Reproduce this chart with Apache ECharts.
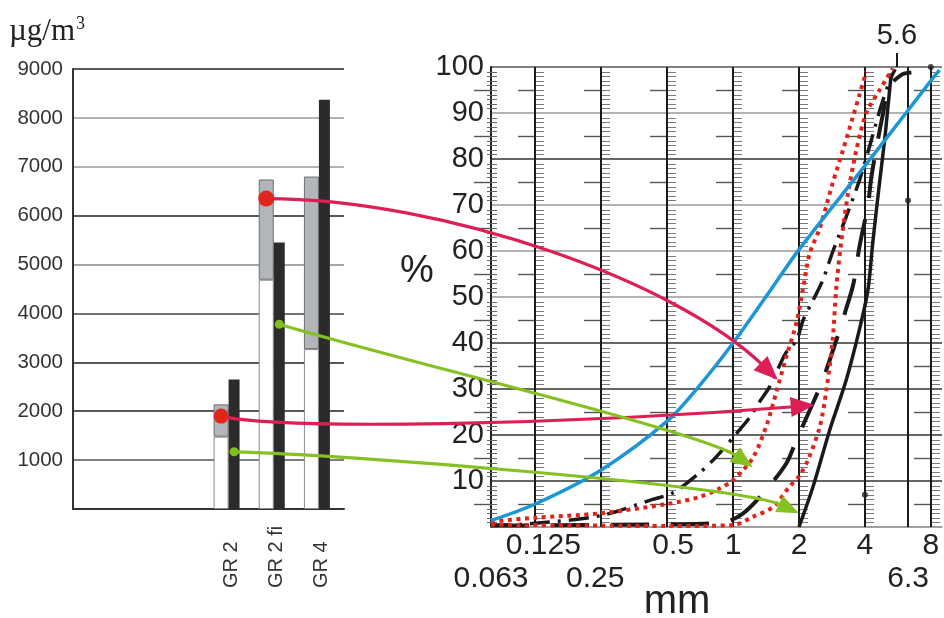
<!DOCTYPE html>
<html>
<head>
<meta charset="utf-8">
<title>GR 2 / GR 4</title>
<script src="https://cdn.jsdelivr.net/npm/echarts@6/dist/echarts.min.js"></script>
<style>
  html, body { margin: 0; padding: 0; background: #fff; }
  #main { width: 944px; height: 618px; }
</style>
</head>
<body>
<div id="main"></div>
<script>
// left chart: concentration bars
var categories = ['', ' ', '  ', 'GR 2', 'GR 2 fi', 'GR 4'];
var rangeLow  = [null, null, null, 1480, 4690, 3270];
var rangeHigh = [null, null, null, 2140, 6740, 6800];
var blackBar  = [null, null, null, 2650, 5450, 8370];

// right chart: grading curves [mm, %]
var blueCurve = [[0.063, 1.4], [0.125, 5], [0.25, 12.4], [0.5, 23], [0.71, 31], [1, 40], [1.41, 50], [2, 60.3], [4, 78.5], [6.3, 90.6], [8, 97], [8.77, 99.3]];
var redDotsA  = [[0.063, 1.2], [0.125, 2], [0.25, 3], [0.5, 5], [0.7, 6.5], [0.87, 8.4], [1, 10.2], [1.23, 15], [1.42, 22], [1.58, 29.5], [1.75, 37], [1.95, 44.5], [2.09, 52], [2.24, 59.5], [2.49, 65], [2.86, 75], [3.18, 82], [3.52, 89], [3.78, 94], [4.06, 99]];
var redDotsB  = [[0.063, 0.5], [0.25, 0.3], [0.5, 0.2], [1, 0.4], [1.23, 2.2], [1.53, 4.4], [1.81, 8.8], [2, 11], [2.2, 14.6], [2.49, 21.8], [2.67, 29.8], [2.85, 40.6], [2.96, 52], [3.12, 62], [3.35, 72.5], [3.66, 82], [4.06, 90], [4.67, 95], [5.37, 99.7]];
var dashDot   = [[0.063, 0.3], [0.125, 0.8], [0.25, 2.5], [0.43, 6], [0.53, 7.4], [0.7, 11.7], [0.84, 15.3], [1.04, 20.4], [1.2, 24], [1.32, 27.2], [1.47, 30.5], [1.74, 37.8], [1.95, 40.6], [2.09, 45], [2.32, 49.3], [2.57, 53.7], [2.86, 60], [3.29, 67.5], [3.78, 75.4], [4.2, 82.7], [4.68, 90.6], [5.19, 97], [5.5, 99.5]];
var longDash  = [[0.063, 0.3], [0.5, 0.6], [0.9, 1], [1.1, 2.8], [1.37, 7.3], [1.75, 13.8], [1.95, 19], [2.32, 27], [2.57, 32], [3.0, 41.4], [3.24, 46.5], [3.55, 53], [3.78, 61], [4.13, 70], [4.28, 76], [4.5, 82], [4.8, 89], [5.18, 95.7], [5.87, 98.3], [6.52, 98.8]];
var solidLine = [[2, 0], [2.32, 8.8], [2.76, 21], [3.29, 32], [3.78, 43], [4.13, 51.5], [4.35, 62], [4.67, 75], [4.92, 84], [5.09, 91], [5.28, 98.6]];
var blackDots = [[4, 7], [6.3, 71], [8, 100]];

// sieve lines and tick labels
var sieveLines = [0.125, 0.25, 0.5, 1, 2, 4, 8];
var extraLine = 6.3;
var topMark = 5.6;
var xLabelValues = [0.063, 0.125, 0.25, 0.5, 1, 2, 4, 6.3, 8];
var xLabelRow    = [2, 1, 2, 1, 1, 1, 1, 2, 1];

// arrows: start on a bar (category, value), end on the grading chart (mm, %)
var arrowFrom = [['GR 2 fi', 6350], ['GR 2', 1900], ['GR 2 fi', 3780], ['GR 2', 1170]];
var arrowTo   = [[1.6, 32], [2.36, 26.5], [1.23, 13], [2.0, 3]];

var FONT = '"Liberation Sans", Arial, Helvetica, sans-serif';
var SERIF = '"Liberation Serif", "Times New Roman", serif';
var RED = '#dc1f55', GREEN = '#86c124';
var arrowLook = [
    {bar: 'range', color: RED, dot: '#e2261c', r: 8, c1: [177, 0], c2: [-101, -98], head: [24, 10]},
    {bar: 'range', color: RED, dot: '#e2261c', r: 7.5, c1: [60, 14], c2: [-250, 20], head: [24, 10]},
    {bar: 'black', color: GREEN, dot: '#7fc01e', r: 4.5, c1: [120, 36], c2: [-50, -35], head: [22, 9]},
    {bar: 'black', color: GREEN, dot: '#7fc01e', r: 4.5, c1: [100, 2], c2: [-60, -28], head: [22, 9]}
];
// small horizontal nudges of some tick labels (px), as in the original print
var labelNudge = {'0.125': 8, '0.25': -6, '0.5': 6};

// bar widths (range bar, black bar, spacer that pushes the pair left)
var W_RANGE = 15, W_BLACK = 11, W_SPACE = 9;
var GROUP = W_RANGE + W_BLACK + W_SPACE;
var RANGE_DX = -GROUP / 2 + W_RANGE / 2;
var BLACK_DX = -GROUP / 2 + W_RANGE + W_BLACK / 2;

// position on the grading paper: log2, the first octave is squeezed
function pos(mm) {
    var l = Math.log2(mm);
    return l >= -3 ? l : -3 + (l + 3) * 0.68;
}
function toXY(arr) {
    return arr.map(function (p) { return [pos(p[0]), p[1]]; });
}
var xMin = pos(0.063), xMax = Math.log2(9);

var rangeSpan = rangeHigh.map(function (h, i) { return h == null ? null : h - rangeLow[i]; });

// tick decoration of the grading paper: kind 0 short right, 1 long left, 2 edge, 3 sieve line, 4 top mark
var tickData = [];
sieveLines.concat([extraLine]).forEach(function (mm) { tickData.push([pos(mm), 0, 3]); });
sieveLines.forEach(function (mm) {
    for (var p = 1; p < 100; p++) if (p % 10) tickData.push([pos(mm), p, 0]);
    for (var q = 5; q < 100; q += 10) tickData.push([pos(mm), q, 1]);
});
for (var p = 1; p < 100; p++) if (p % 10) tickData.push([xMin, p, 2]);
for (var q = 5; q < 100; q += 10) tickData.push([xMin, q, 1]);
tickData.push([pos(topMark), 100, 4]);

function renderTick(params, api) {
    var x = api.value(0), y = api.value(1), kind = api.value(2);
    var c = api.coord([x, y]);
    var px = Math.round(c[0]), py = Math.round(c[1]) + 0.5;
    if (kind === 3) {
        var t = api.coord([x, 100]);
        return {type: 'line', shape: {x1: px, y1: c[1], x2: px, y2: t[1]}, style: {stroke: '#1a1a1a', lineWidth: 2}};
    }
    if (kind === 4) {
        return {type: 'line', shape: {x1: px, y1: c[1], x2: px, y2: c[1] - 14}, style: {stroke: '#1a1a1a', lineWidth: 2}};
    }
    var x1, x2, stroke = '#7a7a7a', lw = 1;
    if (kind === 1) { x1 = px - 17; x2 = px - 1; stroke = '#555'; lw = 1.4; }
    else if (kind === 2) { x1 = px - 4; x2 = px + 6; stroke = '#666'; }
    else { x1 = px + 1; x2 = px + 9; }
    return {type: 'line', shape: {x1: x1, y1: py, x2: x2, y2: py}, style: {stroke: stroke, lineWidth: lw}};
}

var chart = echarts.init(document.getElementById('main'));
var option = {
    animation: false,
    textStyle: {fontFamily: FONT},
    grid: [
        {left: 73, right: 600, top: 69, bottom: 109},
        {left: 491, right: 2, top: 67, bottom: 91}
    ],
    xAxis: [{
        type: 'category',
        gridIndex: 0,
        data: categories,
        axisLine: {show: true, lineStyle: {color: '#333', width: 2}},
        axisTick: {show: false},
        axisLabel: {
            rotate: 90, align: 'left', verticalAlign: 'middle', margin: 79,
            fontSize: 20, color: '#333', interval: 0
        }
    }, {
        type: 'value',
        gridIndex: 1,
        min: xMin,
        max: xMax,
        splitLine: {show: false},
        axisTick: {show: false},
        axisLine: {show: true, onZero: false, lineStyle: {color: '#999', width: 1.5}},
        axisLabel: {
            customValues: xLabelValues.map(pos),
            margin: 4,
            formatter: function (v) {
                for (var i = 0; i < xLabelValues.length; i++) {
                    if (Math.abs(pos(xLabelValues[i]) - v) < 1e-6) {
                        var s = String(xLabelValues[i]);
                        var n = labelNudge[s] || 0;
                        var cls = 'r' + xLabelRow[i] + (n > 0 ? 'r' + n : n < 0 ? 'l' + (-n) : '');
                        return '{' + cls + '|' + s + '}';
                    }
                }
                return '';
            },
            rich: {
                r1: {fontSize: 30, color: '#222', fontFamily: FONT},
                r1r8: {fontSize: 30, color: '#222', fontFamily: FONT, padding: [0, 0, 0, 16]},
                r1r6: {fontSize: 30, color: '#222', fontFamily: FONT, padding: [0, 0, 0, 12]},
                r2: {fontSize: 30, color: '#222', fontFamily: FONT, padding: [33, 0, 0, 0]},
                r2l6: {fontSize: 30, color: '#222', fontFamily: FONT, padding: [33, 12, 0, 0]}
            }
        }
    }, {
        type: 'value',
        gridIndex: 1,
        position: 'top',
        min: xMin,
        max: xMax,
        splitLine: {show: false},
        axisTick: {show: false},
        axisLine: {show: false},
        axisLabel: {
            customValues: [pos(topMark)],
            margin: 17,
            fontSize: 29,
            color: '#222',
            formatter: function () { return String(topMark); }
        }
    }],
    yAxis: [{
        type: 'value',
        gridIndex: 0,
        min: 0,
        max: 9000,
        interval: 1000,
        axisLine: {show: true, lineStyle: {color: '#333', width: 2}},
        axisTick: {show: false},
        axisLabel: {
            fontSize: 20.5, color: '#333', margin: 10,
            formatter: function (v) { return v === 0 ? '' : v; }
        },
        splitLine: {lineStyle: {width: 1.5, color: ['#333', '#555', '#222', '#222', '#444', '#888', '#222', '#999', '#999', '#222']}}
    }, {
        type: 'value',
        gridIndex: 1,
        min: 0,
        max: 100,
        interval: 10,
        axisLine: {show: true, onZero: false, lineStyle: {color: '#222', width: 2}},
        axisTick: {show: false},
        axisLabel: {
            fontSize: 29, color: '#222', margin: 7,
            formatter: function (v) { return v === 0 ? '' : v; }
        },
        splitLine: {lineStyle: {width: 1.5, color: ['#999', '#333', '#333', '#333', '#333', '#999', '#999', '#999', '#333', '#999', '#555']}}
    }],
    series: [
        // stacked range bar: white lower part, grey upper part
        {type: 'bar', xAxisIndex: 0, yAxisIndex: 0, stack: 'range', barWidth: W_RANGE, barGap: '0%',
            data: rangeLow, itemStyle: {color: '#fff', borderColor: '#8a8a8a', borderWidth: 1}},
        {type: 'bar', xAxisIndex: 0, yAxisIndex: 0, stack: 'range', barWidth: W_RANGE, barGap: '0%',
            data: rangeSpan, itemStyle: {color: '#b2b5b9', borderColor: '#6e6e6e', borderWidth: 1}},
        {type: 'bar', xAxisIndex: 0, yAxisIndex: 0, barWidth: W_BLACK, barGap: '0%',
            data: blackBar, itemStyle: {color: '#2b2b2b'}},
        {type: 'bar', xAxisIndex: 0, yAxisIndex: 0, barWidth: W_SPACE, barGap: '0%', data: []},

        // grading paper lines and ticks
        {type: 'custom', xAxisIndex: 1, yAxisIndex: 1, renderItem: renderTick, data: tickData,
            silent: true, progressive: 0, z: 1},

        {type: 'line', xAxisIndex: 1, yAxisIndex: 1, data: toXY(solidLine), showSymbol: false, smooth: 0.3,
            lineStyle: {color: '#1a1a1a', width: 3.5}, z: 3},
        {type: 'line', xAxisIndex: 1, yAxisIndex: 1, data: toXY(longDash), showSymbol: false, smooth: 0.3,
            lineStyle: {color: '#1a1a1a', width: 4, type: [38, 22]}, z: 3},
        {type: 'line', xAxisIndex: 1, yAxisIndex: 1, data: toXY(dashDot), showSymbol: false, smooth: 0.3,
            lineStyle: {color: '#1a1a1a', width: 3.5, type: [20, 8, 3, 8]}, z: 3},
        {type: 'line', xAxisIndex: 1, yAxisIndex: 1, data: toXY(redDotsA), showSymbol: false, smooth: 0.3,
            lineStyle: {color: '#e2231a', width: 4, type: [4, 4.5], cap: 'butt'}, z: 4},
        {type: 'line', xAxisIndex: 1, yAxisIndex: 1, data: toXY(redDotsB), showSymbol: false, smooth: 0.3,
            lineStyle: {color: '#e2231a', width: 4, type: [4, 4.5], cap: 'butt'}, z: 4},
        {type: 'line', xAxisIndex: 1, yAxisIndex: 1, data: toXY(blueCurve), showSymbol: false, smooth: 0.3,
            lineStyle: {color: '#1b96d6', width: 3.5}, z: 5},
        {type: 'scatter', xAxisIndex: 1, yAxisIndex: 1, data: toXY(blackDots), symbolSize: 6,
            itemStyle: {color: '#222'}, z: 5}
    ]
};
chart.setOption(option);

// arrows linking the bars to the grading curves
var graphics = [];
arrowFrom.forEach(function (f, i) {
    var look = arrowLook[i];
    var p0 = chart.convertToPixel({xAxisIndex: 0, yAxisIndex: 0}, [categories.indexOf(f[0]), f[1]]);
    p0[0] += look.bar === 'range' ? RANGE_DX : BLACK_DX;
    var p3 = chart.convertToPixel({xAxisIndex: 1, yAxisIndex: 1}, [pos(arrowTo[i][0]), arrowTo[i][1]]);
    var c1 = [p0[0] + look.c1[0], p0[1] + look.c1[1]];
    var c2 = [p3[0] + look.c2[0], p3[1] + look.c2[1]];
    var dx = p3[0] - c2[0], dy = p3[1] - c2[1], d = Math.sqrt(dx * dx + dy * dy);
    var ux = dx / d, uy = dy / d;
    var L = look.head[0], W = look.head[1];
    var bx = p3[0] - ux * L, by = p3[1] - uy * L;
    graphics.push({type: 'bezierCurve', z: 100,
        shape: {x1: p0[0], y1: p0[1], x2: bx + ux * 3, y2: by + uy * 3, cpx1: c1[0], cpy1: c1[1], cpx2: c2[0], cpy2: c2[1]},
        style: {stroke: look.color, lineWidth: 3.2, fill: 'none'}});
    graphics.push({type: 'polygon', z: 101,
        shape: {points: [[p3[0], p3[1]], [bx - uy * W, by + ux * W], [bx + uy * W, by - ux * W]]},
        style: {fill: look.color}});
    graphics.push({type: 'circle', z: 102, shape: {cx: p0[0], cy: p0[1], r: look.r}, style: {fill: look.dot}});
});

// unit and axis names
graphics.push({type: 'text', x: 9, y: 15, z: 10, style: {
    text: '{u|µg/m}{s|3}',
    rich: {
        u: {fontSize: 31, fontFamily: SERIF, fill: '#222'},
        s: {fontSize: 18, fontFamily: SERIF, fill: '#222', padding: [0, 0, 16, 1]}
    }
}});
graphics.push({type: 'text', x: 417, y: 272, z: 10, style: {
    text: '%', fontSize: 38, fontFamily: FONT, fill: '#222', align: 'center', verticalAlign: 'middle'}});
graphics.push({type: 'text', x: 677, y: 602, z: 10, style: {
    text: 'mm', fontSize: 40, fontFamily: FONT, fill: '#222', align: 'center', verticalAlign: 'middle'}});

chart.setOption({graphic: graphics});
</script>
</body>
</html>
